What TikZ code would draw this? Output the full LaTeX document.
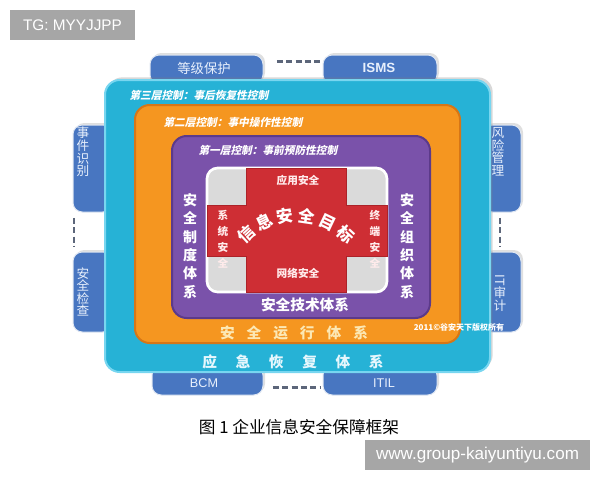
\documentclass[tikz,border=0pt]{standalone}
\usepackage{fontspec}
\setmainfont{Liberation Sans}
\newfontfamily\cjk{Noto Sans CJK SC}
\newfontfamily\cjkslant[FakeSlant=0.22]{Noto Sans CJK SC}
\usetikzlibrary{fit,shadows}

\definecolor{tabblue}{RGB}{72,118,193}
\definecolor{tabedge}{RGB}{222,230,242}
\definecolor{tabink}{RGB}{232,240,252}
\definecolor{dashgrey}{RGB}{92,102,122}
\definecolor{cyanfill}{RGB}{38,178,214}
\definecolor{cyanedge}{RGB}{120,214,240}
\definecolor{orangefill}{RGB}{245,150,32}
\definecolor{orangeedge}{RGB}{214,118,22}
\definecolor{purplefill}{RGB}{122,82,170}
\definecolor{purpleedge}{RGB}{92,58,138}
\definecolor{squaregrey}{RGB}{218,218,218}
\definecolor{crossred}{RGB}{206,46,52}
\definecolor{crossdark}{RGB}{150,26,32}
\definecolor{creamink}{RGB}{252,232,180}
\definecolor{badgegrey}{RGB}{166,166,166}

\tikzset{every picture/.style={line width=0.75pt}}
\tikzset{
  tab/.style={draw=tabedge, fill=tabblue, rounded corners=7pt, inner sep=0pt,
    drop shadow={opacity=0.25, shadow xshift=1.5pt, shadow yshift=1.5pt}},
  tabdash/.style={draw=dashgrey, line width=2pt, dash pattern={on 4.5pt off 2.5pt}},
  tabtext/.style={inner sep=0.75pt, text=tabink, font=\cjk\fontsize{10}{12}\selectfont},
  tabvert/.style={tabtext, align=center, font=\cjk\fontsize{9.5}{9.4}\selectfont},
  layertitle/.style={inner sep=0.75pt, anchor=west, text=white, font=\cjkslant\bfseries\fontsize{8}{9.6}\selectfont},
  sysname/.style={inner sep=0.75pt, align=center, text=white, font=\cjk\bfseries\fontsize{10.5}{13.7}\selectfont},
  crosstext/.style={inner sep=0.75pt, align=center, text=white!92!red, font=\cjk\bfseries\fontsize{8}{12}\selectfont},
  aimchar/.style={inner sep=0pt, text=white, font=\cjk\bfseries\fontsize{12.5}{12.5}\selectfont},
  badge/.style={fill=badgegrey, text=white, inner sep=0pt}
}

\begin{document}
\begin{tikzpicture}[x=0.75pt,y=0.75pt,yscale=-1]
\useasboundingbox (0,0) rectangle (600,480);
\fill[white] (0,0) rectangle (600,480);

%Shape: Tabs behind the frame
\node[tab, fit={(150,55) (263,84)}] (grade) {};
\node[tab, fit={(323,55) (437,84)}] (isms) {};
\node[tab, fit={(73,125) (112,212)}] (ident) {};
\node[tab, fit={(73,252) (112,332)}] (check) {};
\node[tab, fit={(483,125) (521,212)}] (risk) {};
\node[tab, fit={(483,252) (521,332)}] (audit) {};
\node[tab, fit={(152,366) (263,395)}] (bcm) {};
\node[tab, fit={(323,366) (437,395)}] (itil) {};

%Straight Lines dashed, tab to tab
\draw[tabdash, shorten <=10pt, shorten >=1pt] ([yshift=5pt]grade.north east) -- ([yshift=5pt]isms.north west);
\draw[tabdash, shorten <=7pt, shorten >=2pt] ([yshift=-6pt]bcm.south east) -- ([yshift=-6pt]itil.south west);
\draw[tabdash, shorten <=4pt, shorten >=4pt] ([xshift=1pt]ident.south west) -- ([xshift=1pt]check.north west);
\draw[tabdash, shorten <=4pt, shorten >=4pt] ([xshift=13pt]risk.south west) -- ([xshift=13pt]audit.north west);

%Shape: Rounded Rectangles, the three layers
\draw[draw=cyanedge, fill=cyanfill, line width=1.5pt, rounded corners=11pt,
  drop shadow={opacity=0.3, shadow xshift=2pt, shadow yshift=2pt}] (105,80) rectangle (490,372);
\draw[draw=orangeedge, fill=orangefill, line width=1.5pt, rounded corners=11pt] (135,105) rectangle (460,343);
\draw[draw=purpleedge, fill=purplefill, line width=1.5pt, rounded corners=11pt] (172,136) rectangle (430,318);

%Shape: Square and cross
\draw[draw=white, fill=squaregrey, line width=2pt, rounded corners=8pt] (207,168) rectangle (387,292);
\draw[draw=crossdark!60!crossred, fill=crossred] (246,168) -- (346,168) -- (346,205) -- (387,205) -- (387,256) -- (346,256) -- (346,292) -- (246,292) -- (246,256) -- (207,256) -- (207,205) -- (246,205) -- cycle;

% Text Node
\draw (204,68) node (gradeText) [tabtext] {等级保护};
% Text Node
\draw (379,68) node (ismsText) [tabtext, font=\bfseries\fontsize{10}{12}\selectfont] {ISMS};
% Text Node
\draw (204,383) node (bcmText) [tabtext, font=\fontsize{9.5}{12}\selectfont] {BCM};
% Text Node
\draw (384,383) node (itilText) [tabtext, font=\fontsize{9.5}{12}\selectfont] {ITIL};
% Text Node
\draw (83,152) node (identText) [tabvert] {事\\件\\识\\别};
% Text Node
\draw (83,292) node (checkText) [tabvert] {安\\全\\检\\查};
% Text Node
\draw (498,152) node (riskText) [tabvert] {风\\险\\管\\理};
% Text Node
\draw (500,293) node (auditText) [tabvert] {\rotatebox[origin=c]{-90}{IT}\\审\\计};

% Text Node
\draw (128,95) node (layerThree) [layertitle] {第三层控制：事后恢复性控制};
% Text Node
\draw (162,122) node (layerTwo) [layertitle] {第二层控制：事中操作性控制};
% Text Node
\draw (197,150) node (layerOne) [layertitle] {第一层控制：事前预防性控制};

% Text Node
\draw (190,246) node (policy) [sysname] {安\\全\\制\\度\\体\\系};
% Text Node
\draw (407,246) node (organize) [sysname] {安\\全\\组\\织\\体\\系};
% Text Node
\draw (305,305) node (tech) [sysname, font=\cjk\bfseries\fontsize{11}{13}\selectfont] {安全技术体系};
% Text Node
\draw (294,333) node (operate) [sysname, text=creamink, font=\cjk\bfseries\fontsize{11}{13}\selectfont] {安\hspace{9pt}全\hspace{9pt}运\hspace{9pt}行\hspace{9pt}体\hspace{9pt}系};
% Text Node
\draw (293,362) node (rescue) [sysname, text=white!90!cyan, font=\cjk\bfseries\fontsize{11}{13}\selectfont] {应\hspace{14pt}急\hspace{14pt}恢\hspace{14pt}复\hspace{14pt}体\hspace{14pt}系};
% Text Node
\draw (459,327) node (copyright) [inner sep=0.75pt, text=white, font=\cjk\bfseries\fontsize{6}{7}\selectfont] {2011©谷安天下版权所有};

% Text Node
\draw (298,180) node (appSec) [crosstext] {应用安全};
% Text Node
\draw (298,273) node (netSec) [crosstext] {网络安全};
% Text Node
\draw (223,239) node (sysSec) [crosstext] {系\\统\\安\\全};
% Text Node
\draw (375,239) node (termSec) [crosstext] {终\\端\\安\\全};

%Arched title
\foreach \ch [count=\i] in {信,息,安,全,目,标}{
  \pgfmathsetmacro\a{-59.5+17*\i}
  \node[aimchar, rotate=-\a] (aim\i) at ({296+74*sin(\a)},{289-74*cos(\a)}) {\ch};
}

% Text Node
\draw (299,427) node (caption) [inner sep=0.75pt, font=\cjk\fontsize{12.5}{15}\selectfont] {图 1 企业信息安全保障框架};

% Text Node
\draw (72.5,25) node (tgBadge) [badge, minimum width=93.75pt, minimum height=22.5pt, font=\fontsize{11.5}{13}\selectfont] {TG: MYYJJPP};
% Text Node
\draw (477.5,455) node (siteBadge) [badge, minimum width=168.75pt, minimum height=22.5pt, font=\fontsize{12.8}{15}\selectfont] {www.group-kaiyuntiyu.com};

\end{tikzpicture}
\end{document}
